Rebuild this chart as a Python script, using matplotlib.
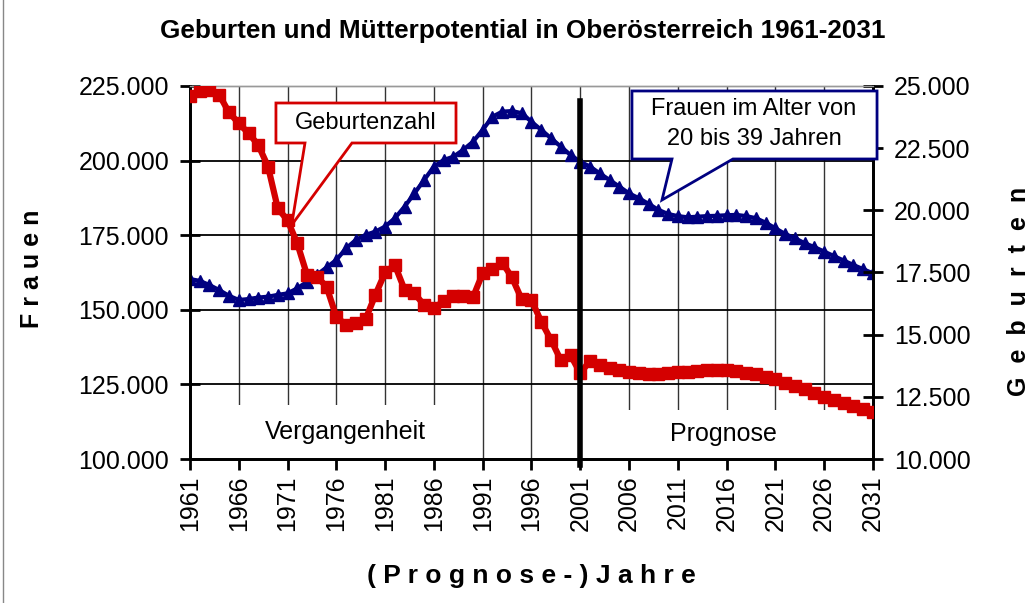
import matplotlib
matplotlib.use("Agg")
import matplotlib.pyplot as plt
from matplotlib.patches import Polygon, Rectangle
from matplotlib.ticker import FuncFormatter
import matplotlib.lines as mlines

plt.rcParams['font.family'] = ['Liberation Sans', 'DejaVu Sans']

# ---------------- data ----------------
years = list(range(1961, 2032))

frauen = [
    160300, 159700, 158300, 156600, 154700, 153300, 153600, 154100, 154400, 155000,
    155500, 157200, 159400, 161700, 164200, 166700, 170600, 173400, 175100, 176200,
    177900, 180700, 184600, 189000, 193500, 198000, 200200, 201300, 203600, 206300,
    210300, 214700, 216400, 216600, 215900, 213000, 210300, 207500, 204700, 201900,
    199600, 198000, 195700, 193500, 191300, 189000, 187400, 185500, 183500, 182100,
    181400, 181000, 181200, 181400, 181500, 181700, 181800, 181400, 180700, 179200,
    177300, 175400, 174000, 172300, 171000, 169500, 168000, 166500, 165000, 163600,
    162200,
]

geburten = [
    24600, 24800, 24840, 24640, 23940, 23500, 23100, 22630, 21760, 20080,
    19600, 18670, 17400, 17330, 16930, 15720, 15390, 15460, 15620, 16600,
    17500, 17800, 16800, 16660, 16190, 16060, 16350, 16560, 16560, 16500,
    17470, 17630, 17900, 17300, 16420, 16400, 15520, 14790, 13980, 14180,
    13450, 13950, 13780, 13650, 13580, 13510, 13450, 13420, 13420, 13450,
    13490, 13510, 13540, 13570, 13580, 13570, 13530, 13470, 13410, 13310,
    13210, 13070, 12940, 12800, 12670, 12510, 12370, 12240, 12130, 12010,
    11900,
]

x_ticks = [1961, 1966, 1971, 1976, 1981, 1986, 1991, 1996, 2001, 2006, 2011, 2016, 2021, 2026, 2031]
left_ticks = [100000, 125000, 150000, 175000, 200000, 225000]
right_ticks = [10000, 12500, 15000, 17500, 20000, 22500, 25000]
split_year = 2001

title = "Geburten und Mütterpotential in Oberösterreich 1961-2031"
label_left = "F r a u e n"
label_right = "G  e  b  u  r  t  e  n"
label_x = "( P r o g n o s e - ) J a h r e"

BLUE = "#000080"
RED = "#D40000"

def de_fmt(v, pos=None):
    return f"{int(round(v)):,}".replace(",", ".")

# ---------------- figure ----------------
fig = plt.figure(figsize=(10.29, 6.03), dpi=100)
ax = fig.add_axes([0.1846, 0.2388, 0.6638, 0.6186])
ax2 = ax.twinx()

ax.set_xlim(1961, 2031)
ax.set_ylim(100000, 225000)
ax2.set_ylim(10000, 25000)

ax.set_xticks(x_ticks)
ax.set_xticklabels([str(t) for t in x_ticks], rotation=90)
ax.set_yticks(left_ticks)
ax2.set_yticks(right_ticks)
ax.yaxis.set_major_formatter(FuncFormatter(de_fmt))
ax2.yaxis.set_major_formatter(FuncFormatter(de_fmt))

ax.tick_params(axis='y', direction='inout', length=14, width=2, labelsize=18, pad=8)
ax2.tick_params(axis='y', direction='inout', length=14, width=2, labelsize=18, pad=8)
ax.tick_params(axis='x', direction='out', length=8, width=2, labelsize=18, pad=4)

for a in (ax, ax2):
    for s in ('left', 'bottom', 'right'):
        a.spines[s].set_linewidth(2)
        a.spines[s].set_color('black')
    a.spines['top'].set_linewidth(1)
    a.spines['top'].set_color('#999999')

ax.set_axisbelow(True)
ax.yaxis.grid(True, color='black', lw=1.3)
ax.xaxis.grid(True, color='#333333', lw=1.0)

# white label boxes over the gridlines
ax.add_patch(Rectangle((0.003, 0.0), 0.418, 0.145, transform=ax.transAxes,
                       facecolor='white', edgecolor='none', zorder=1))
ax.add_patch(Rectangle((0.5754, 0.0), 0.4144, 0.131, transform=ax.transAxes,
                       facecolor='white', edgecolor='none', zorder=1))
ax.text(0.2269, 0.072, "Vergangenheit", transform=ax.transAxes, fontsize=18,
        ha='center', va='center', zorder=2)
ax.text(0.7804, 0.067, "Prognose", transform=ax.transAxes, fontsize=18,
        ha='center', va='center', zorder=2)

# series
ax.plot(years, frauen, color=BLUE, lw=3, marker='^', ms=9, zorder=3)
ax2.plot(years, geburten, color=RED, lw=4.5, marker='s', ms=8.5, zorder=3)

# split line
ax2.axvline(split_year, ymin=-0.015, ymax=0.96, color='black', lw=4, clip_on=False, zorder=4)

# callouts
geb_poly = [(0.1259, 0.9544), (0.3895, 0.9544), (0.3895, 0.8472), (0.2372, 0.8472),
            (0.1489, 0.6273), (0.1684, 0.8472), (0.1259, 0.8472)]
ax2.add_patch(Polygon(geb_poly, closed=True, transform=ax.transAxes, facecolor='white',
                      edgecolor=RED, lw=2, clip_on=False, zorder=6))
ax2.text(0.2577, 0.9008, "Geburtenzahl", transform=ax.transAxes, fontsize=17,
         ha='center', va='center', zorder=7)

fr_poly = [(0.6471, 0.9866), (1.0059, 0.9866), (1.0059, 0.8043), (0.7950, 0.8043),
           (0.6911, 0.6944), (0.7057, 0.8043), (0.6471, 0.8043)]
ax2.add_patch(Polygon(fr_poly, closed=True, transform=ax.transAxes, facecolor='white',
                      edgecolor=BLUE, lw=2, clip_on=False, zorder=6))
ax2.text(0.8258, 0.8985, "Frauen im Alter von\n20 bis 39 Jahren", transform=ax.transAxes,
         fontsize=17, ha='center', va='center', linespacing=1.45, zorder=7)

# titles / labels
fig.text(0.508, 0.948, title, fontsize=18.8, fontweight='bold', ha='center', va='center')
fig.text(0.031, 0.555, label_left, fontsize=18, fontweight='bold', rotation=90,
         ha='center', va='center')
fig.text(0.990, 0.517, label_right, fontsize=18, fontweight='bold', rotation=90,
         ha='center', va='center')
fig.text(0.516, 0.045, label_x, fontsize=19, fontweight='bold', ha='center', va='center')

# thin frame line at left edge
fig.add_artist(mlines.Line2D([0.003, 0.003], [0.0, 1.0], transform=fig.transFigure,
                             color='#888888', lw=1))

fig.savefig("out.png", dpi=100)
